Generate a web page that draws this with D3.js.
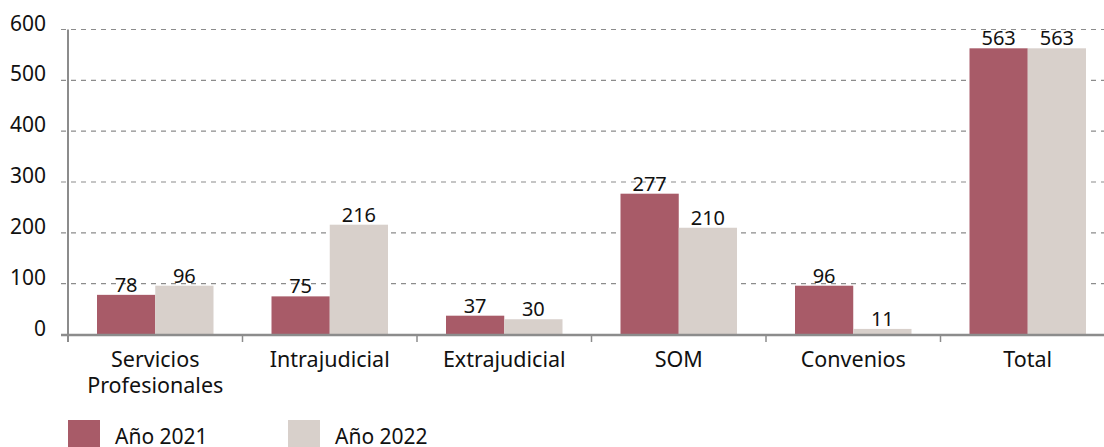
<!DOCTYPE html>
<html><head><meta charset="utf-8">
<script src="https://cdn.jsdelivr.net/npm/d3@7"></script>
<style>body{margin:0;background:#fff;} svg{display:block;font-family:"Noto Sans",sans-serif;}</style>
</head><body><svg id="c" width="1104" height="447"></svg>
<script>
const categories = ["Servicios\nProfesionales","Intrajudicial","Extrajudicial","SOM","Convenios","Total"];
const series = ["Año 2021","Año 2022"];
const values2021 = [78,75,37,277,96,563];
const values2022 = [96,216,30,210,11,563];
const yTicks = [0,100,200,300,400,500,600];
const colors = ["#A85B68","#D8D0CB"];

const svg = d3.select("#c");
const left = 68, step = 174.5;
const x0 = d3.scaleBand().domain(categories).range([left, left + step*categories.length]).padding(0);
const x1 = d3.scaleBand().domain(series).range([29, step-29]).padding(0);
const y = d3.scaleLinear().domain([0,600]).range([334.5, 29.5]);

// grid
svg.append("g").selectAll("line").data(yTicks.slice(1)).join("line")
  .attr("x1", 61).attr("x2", 1104)
  .attr("y1", d=>y(d)).attr("y2", d=>y(d))
  .attr("stroke","#8c8c8c").attr("stroke-width",1.2).attr("stroke-dasharray","5,5");

// y tick labels
svg.append("g").selectAll("text").data(yTicks).join("text")
  .attr("x", 46).attr("y", d=>y(d)+1).attr("text-anchor","end")
  .attr("font-size",21).attr("fill","#111").text(d=>d);

// bars
const data = categories.map((c,i)=>({c, vals:[values2021[i], values2022[i]]}));
const g = svg.append("g").selectAll("g").data(data).join("g")
  .attr("transform", d=>`translate(${x0(d.c)},0)`);
g.selectAll("rect").data(d=>d.vals.map((v,j)=>({s:series[j], v, j}))).join("rect")
  .attr("x", d=>x1(d.s)).attr("width", x1.bandwidth())
  .attr("y", d=>y(d.v)).attr("height", d=>y(0)-y(d.v))
  .attr("fill", d=>colors[d.j]);
g.selectAll("text.v").data(d=>d.vals.map((v,j)=>({s:series[j], v, j}))).join("text")
  .attr("class","v")
  .attr("x", d=>x1(d.s)+x1.bandwidth()/2).attr("y", d=>y(d.v)-3)
  .attr("text-anchor","middle").attr("font-size",20).attr("fill","#111").text(d=>d.v);

// x axis baseline
svg.append("line").attr("x1",61).attr("x2",1104).attr("y1",y(0)+0.5).attr("y2",y(0)+0.5)
  .attr("stroke","#8c8c8c").attr("stroke-width",2.5);
// y axis
svg.append("line").attr("x1",left).attr("x2",left).attr("y1",y(600)).attr("y2",342)
  .attr("stroke","#8c8c8c").attr("stroke-width",2);
// category ticks
svg.append("g").selectAll("line").data(categories.slice(1)).join("line")
  .attr("x1", d=>x0(d)).attr("x2", d=>x0(d)).attr("y1", y(0)).attr("y2", 342)
  .attr("stroke","#8c8c8c").attr("stroke-width",1.5);

// category labels
svg.append("g").selectAll("text").data(categories).join("text")
  .attr("x", d=>x0(d)+step/2).attr("y", 367)
  .attr("text-anchor","middle").attr("font-size",21.5).attr("fill","#111")
  .each(function(d){
    const lines = d.split("\n");
    d3.select(this).selectAll("tspan").data(lines).join("tspan")
      .attr("x", x0(d)+step/2).attr("dy",(l,i)=>i?26:0).text(l=>l);
  });

// legend
const leg = svg.append("g").selectAll("g").data(series).join("g")
  .attr("transform",(d,i)=>`translate(${68+i*220},420)`);
leg.append("rect").attr("width",32).attr("height",28).attr("fill",(d,i)=>colors[i]);
leg.append("text").attr("x",47).attr("y",24).attr("font-size",21).attr("fill","#111").text(d=>d);
</script></body></html>
